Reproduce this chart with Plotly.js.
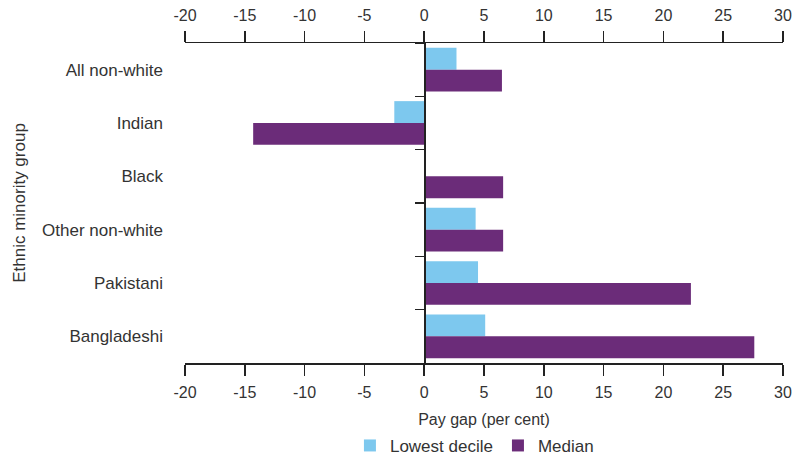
<!DOCTYPE html>
<html>
<head>
<meta charset="utf-8">
<script src="https://cdn.plot.ly/plotly-3.0.1.min.js"></script>
<style>html,body{margin:0;padding:0;background:#fff;}#chart{width:792px;height:455px;}</style>
</head>
<body>
<div id="chart"></div>
<script>
var categories = ["All non-white", "Indian", "Black", "Other non-white", "Pakistani", "Bangladeshi"];
var lowestDecile = [2.7, -2.5, 0, 4.3, 4.5, 5.1];
var median = [6.5, -14.3, 6.6, 6.6, 22.3, 27.6];
var xTicks = [-20, -15, -10, -5, 0, 5, 10, 15, 20, 25, 30];

var fam = "Liberation Sans, Arial, sans-serif";
var tickFont = {family: fam, size: 16, color: "#333"};
var catFont = {family: fam, size: 17, color: "#333"};
var lineColor = "#222";

var traces = [
  {type: "bar", orientation: "h", name: "Lowest decile", y: categories, x: lowestDecile,
   marker: {color: "#7DC8EE"}, hoverinfo: "x"},
  {type: "bar", orientation: "h", name: "Median", y: categories, x: median,
   marker: {color: "#6B2C79"}, hoverinfo: "x"},
  {type: "scatter", mode: "markers", y: categories, x: categories.map(function(){return 0;}),
   xaxis: "x2", yaxis: "y2", marker: {opacity: 0}, showlegend: false, hoverinfo: "skip"}
];

var xCommon = {
  range: [-20, 30], tickmode: "array", tickvals: xTicks, ticktext: xTicks.map(String),
  showgrid: false, zeroline: false, showline: true, linecolor: lineColor, linewidth: 1.5,
  ticks: "outside", ticklen: 11, tickwidth: 1.5, tickcolor: lineColor, tickfont: tickFont,
  ticklabelstandoff: 3, fixedrange: true
};

var layout = {
  width: 792, height: 455,
  margin: {l: 185, r: 9, t: 43, b: 92, autoexpand: false},
  paper_bgcolor: "#fff", plot_bgcolor: "#fff",
  font: tickFont,
  barmode: "group", bargap: 0.18, bargroupgap: 0,
  xaxis: Object.assign({}, xCommon, {
    side: "bottom", automargin: false,
    title: {text: "Pay gap (per cent)", font: tickFont, standoff: 14}
  }),
  xaxis2: Object.assign({}, xCommon, {overlaying: "x", side: "top", matches: "x", anchor: "y", automargin: false}),
  yaxis: {
    type: "category", categoryorder: "array", categoryarray: categories, autorange: "reversed",
    showgrid: false, zeroline: false, showline: false, ticks: "", tickfont: catFont,
    ticklabelstandoff: 21, automargin: false,
    title: {text: "Ethnic minority group", font: catFont, standoff: 12}, fixedrange: true
  },
  yaxis2: {
    type: "category", categoryorder: "array", categoryarray: categories,
    overlaying: "y", matches: "y", anchor: "free", position: 0.4, side: "left",
    showgrid: false, zeroline: false, showline: true, linecolor: lineColor, linewidth: 1.5,
    ticks: "outside", tickson: "boundaries", ticklen: 9, tickwidth: 1.5, tickcolor: lineColor,
    showticklabels: false, fixedrange: true, automargin: false
  },
  legend: {orientation: "h", x: 0.484, xanchor: "center", yref: "container", y: 0.02, yanchor: "middle",
           font: catFont, traceorder: "normal", itemwidth: 30},
  showlegend: true
};

Plotly.newPlot("chart", traces, layout, {displayModeBar: false, staticPlot: true});
</script>
</body>
</html>
